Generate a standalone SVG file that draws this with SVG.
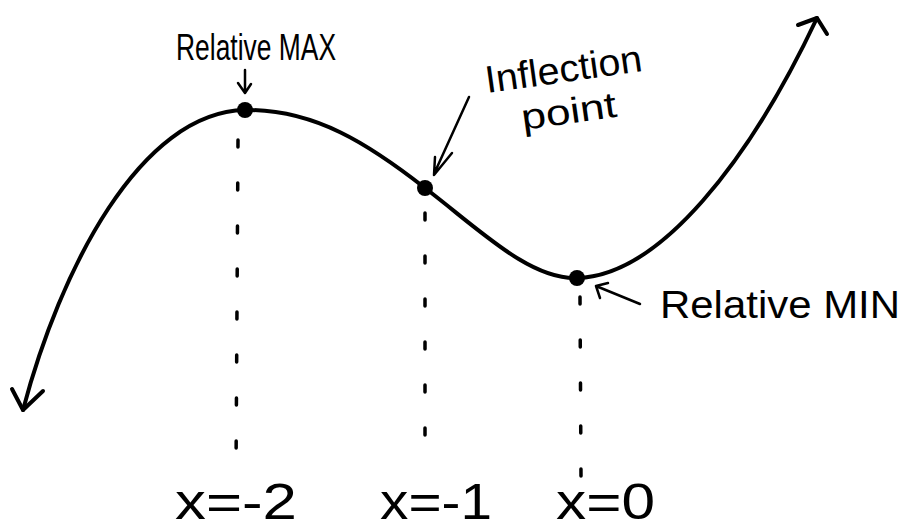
<svg xmlns="http://www.w3.org/2000/svg" width="903" height="529" viewBox="0 0 903 529">
<style>
.ink{fill:none;stroke:#000;stroke-width:4;stroke-linecap:round;stroke-linejoin:round}
.thin{fill:none;stroke:#000;stroke-width:2.5;stroke-linecap:round;stroke-linejoin:round}
.dots{fill:none;stroke:#000;stroke-width:3.5;stroke-linecap:round;stroke-dasharray:7 36}
.lbl{font-family:"Liberation Sans","DejaVu Sans",sans-serif;fill:#000}
</style>
<rect width="903" height="529" fill="#fff"/>
<g id="connectors">
<path class="ink" d="M23,410 C60,270 140,112 245,110 C315,109 370,145 425,188 C480,230 530,280 577,278 C660,276 750,160 817,18"/>
<path class="ink" d="M12,389 L23,410 L43,391"/>
<path class="ink" d="M798,25 L817,18 L827,34"/>
<path class="dots" d="M238,140 L236,472"/>
<path class="dots" d="M425,213 L425,466"/>
<path class="dots" d="M580,297 L581,476"/>
<path class="thin" d="M245,70 L245,92 M238,83 L245,93 L251,84"/>
<path class="thin" d="M469,97 L434,174 M435,157 L434,175 L452,153"/>
<path class="thin" d="M640,304 L596,286 M600,298 L596,286 L608,283"/>
</g>
<g id="max"><circle cx="245" cy="110" r="8"/></g>
<g id="inflection"><circle cx="425" cy="188" r="8"/></g>
<g id="min"><circle cx="577" cy="278" r="8"/></g>
<g id="label-max"><text class="lbl" x="176" y="60" font-size="36" textLength="160" lengthAdjust="spacingAndGlyphs">Relative MAX</text></g>
<g id="label-inflection">
<text class="lbl" x="487" y="93" font-size="38" textLength="158" lengthAdjust="spacingAndGlyphs" transform="rotate(-8 487 93)">Inflection</text>
<text class="lbl" x="523" y="130" font-size="36" textLength="96" lengthAdjust="spacingAndGlyphs" transform="rotate(-8 523 130)">point</text>
</g>
<g id="label-min"><text class="lbl" x="660" y="318" font-size="38" textLength="240" lengthAdjust="spacingAndGlyphs">Relative MIN</text></g>
<g id="axis-labels">
<text class="lbl" x="175" y="519" font-size="50" textLength="122" lengthAdjust="spacingAndGlyphs">x=-2</text>
<text class="lbl" x="380" y="519" font-size="50" textLength="112" lengthAdjust="spacingAndGlyphs">x=-1</text>
<text class="lbl" x="556" y="519" font-size="50" textLength="99" lengthAdjust="spacingAndGlyphs">x=0</text>
</g>
</svg>
